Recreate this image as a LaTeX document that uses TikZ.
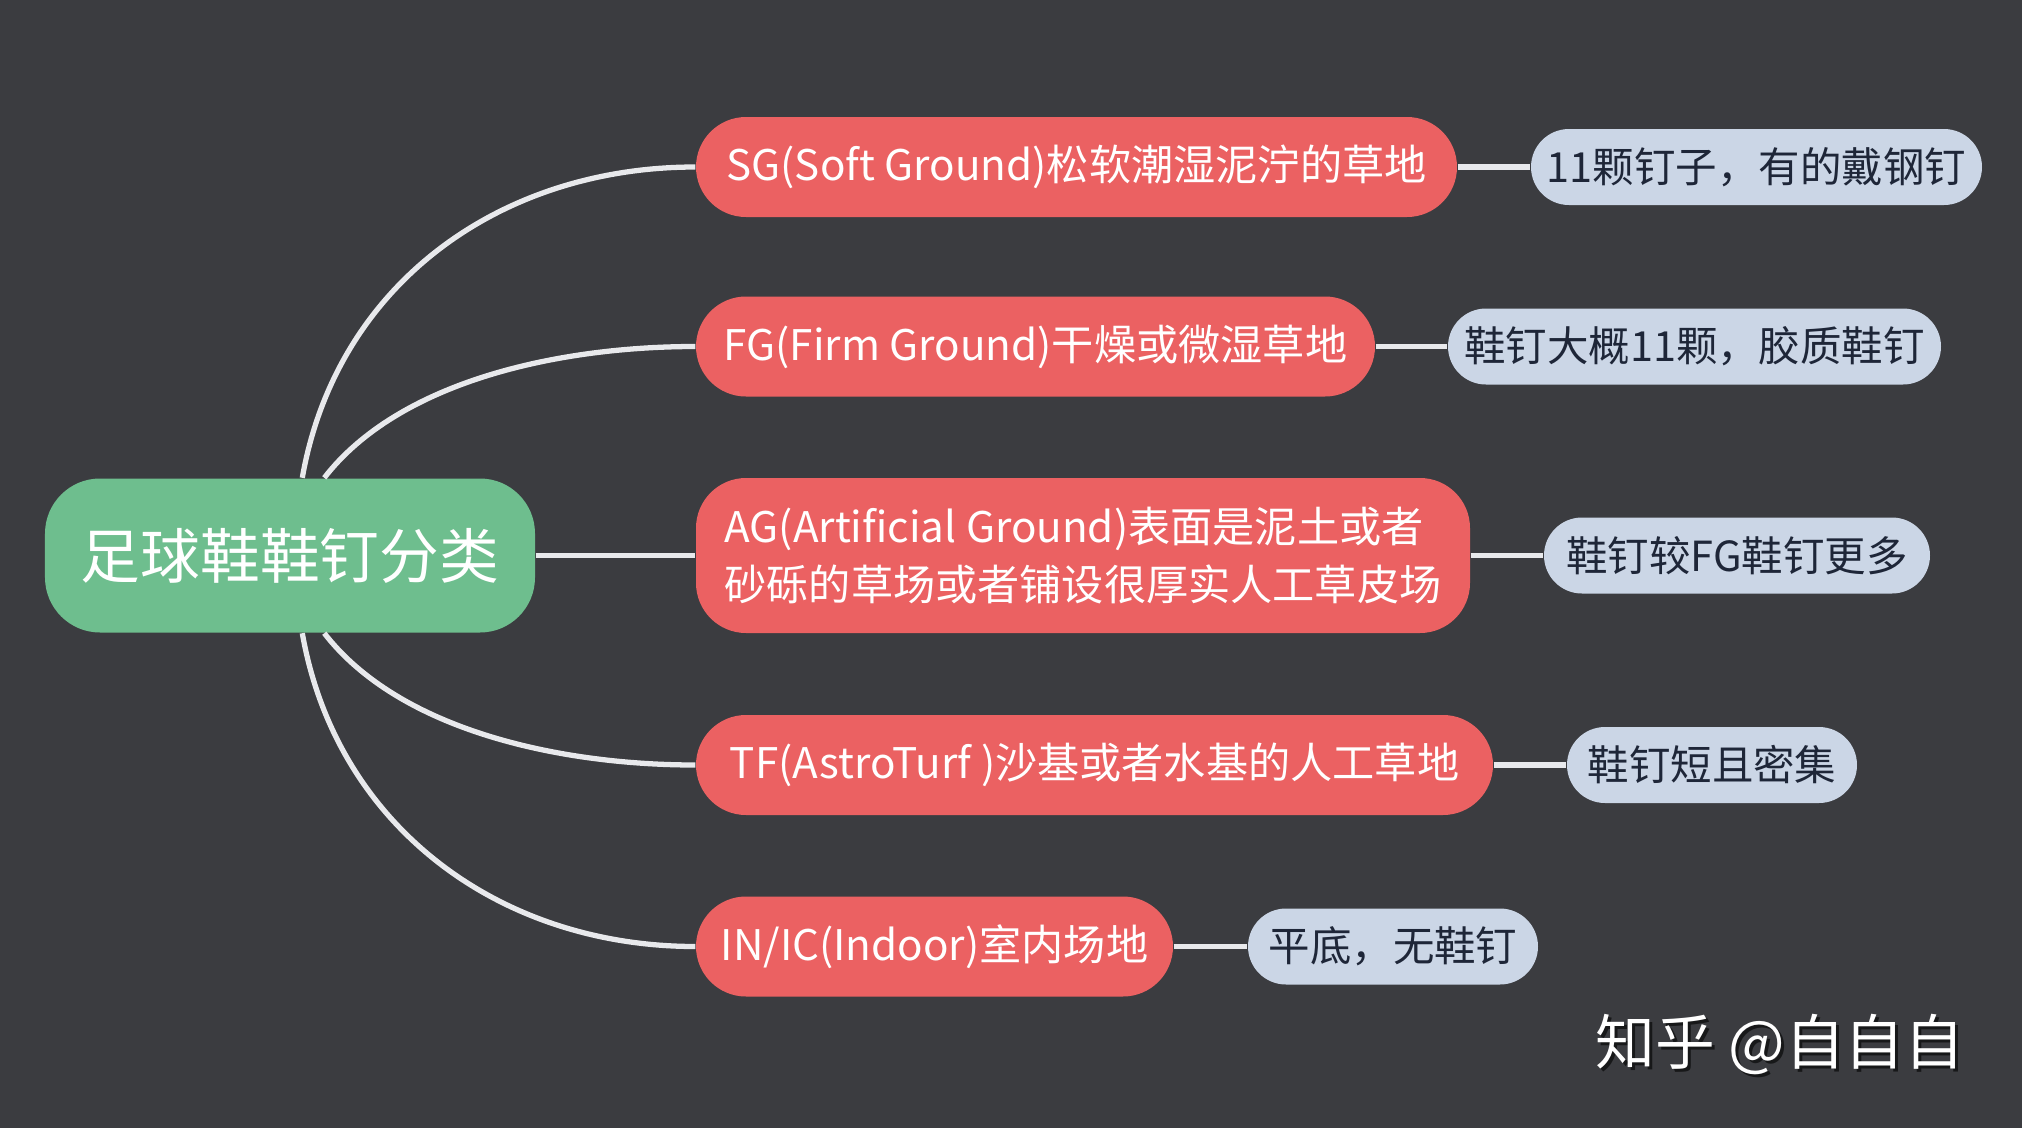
\documentclass[tikz,border=0pt]{standalone}
\usepackage{fontspec}
\setmainfont{Noto Sans CJK SC}
\usepackage{xcolor}
\usepackage{tikz}
\usetikzlibrary{positioning, calc}
\definecolor{boardbg}{RGB}{59, 60, 64}
\definecolor{rootgreen}{RGB}{110, 190, 142}
\definecolor{typered}{RGB}{235, 97, 98}
\definecolor{notegray}{RGB}{203, 214, 230}
\definecolor{notetext}{RGB}{30, 38, 56}
\definecolor{linkgray}{RGB}{232, 233, 236}

\begin{document}
\begin{tikzpicture}[
    rootBox/.style={fill=rootgreen, text=white, rounded corners=0.55cm, minimum height=1.54cm, inner xsep=0.1cm, font=\fontsize{17}{20}\selectfont},
    typeBox/.style={fill=typered, text=white, rounded corners=0.5cm, minimum height=1.0cm, inner xsep=0.1cm, align=left, font=\fontsize{12}{16.5}\selectfont},
    noteBox/.style={fill=notegray, text=notetext, rounded corners=0.38cm, minimum height=0.76cm, inner xsep=0.1cm, font=\fontsize{11.8}{14}\selectfont},
    branchEdge/.style={draw=linkgray, line width=1.5pt},
    leafEdge/.style={draw=linkgray, line width=1.6pt},
    markText/.style={font=\fontsize{17}{20}\selectfont}
]

% Board
\fill[boardbg] (0,0) rectangle (20.22,-11.28);
\useasboundingbox (0,0) rectangle (20.22,-11.28);

% Root
\node[rootBox, minimum width=4.90cm] (root) at (2.90, -5.555) {足球鞋鞋钉分类};

% Shoe types
\node[typeBox, minimum width=7.61cm] (sg) at (10.765, -1.67) {SG(Soft Ground)松软潮湿泥泞的草地};
\node[typeBox, minimum width=6.79cm] (fg) at (10.355, -3.465) {FG(Firm Ground)干燥或微湿草地};
\node[typeBox, minimum width=7.74cm, minimum height=1.55cm] (ag) at (10.83, -5.555) {AG(Artificial Ground)表面是泥土或者\\砂砾的草场或者铺设很厚实人工草皮场};
\node[typeBox, minimum width=7.97cm] (tf) at (10.945, -7.65) {TF(AstroTurf )沙基或者水基的人工草地};
\node[typeBox, minimum width=4.77cm] (ic) at (9.345, -9.465) {IN/IC(Indoor)室内场地};

% Notes
\node[noteBox, minimum width=4.51cm] (sgNote) at (17.565, -1.67) {11颗钉子，有的戴钢钉};
\node[noteBox, minimum width=4.93cm] (fgNote) at (16.945, -3.465) {鞋钉大概11颗，胶质鞋钉};
\node[noteBox, minimum width=3.86cm] (agNote) at (17.37, -5.555) {鞋钉较FG鞋钉更多};
\node[noteBox, minimum width=2.90cm] (tfNote) at (17.12, -7.65) {鞋钉短且密集};
\node[noteBox, minimum width=2.90cm] (icNote) at (13.93, -9.465) {平底，无鞋钉};

% Branches
\draw[branchEdge] ([xshift=2.58cm]root.north west) .. controls +(0.34,1.93) and +(-1.96,0) .. (sg.west);
\draw[branchEdge] ([xshift=2.80cm]root.north west) .. controls +(0.75,0.97) and +(-1.36,0) .. (fg.west);
\draw[branchEdge] (root.east) -- (ag.west);
\draw[branchEdge] ([xshift=2.80cm]root.south west) .. controls +(0.75,-0.97) and +(-1.36,0) .. (tf.west);
\draw[branchEdge] ([xshift=2.58cm]root.south west) .. controls +(0.34,-1.93) and +(-1.96,0) .. (ic.west);

\draw[leafEdge] (sg) -- (sgNote);
\draw[leafEdge] (fg) -- (fgNote);
\draw[leafEdge] (ag) -- (agNote);
\draw[leafEdge] (tf) -- (tfNote);
\draw[leafEdge] (ic) -- (icNote);

% Watermark
\node[markText, text=black, opacity=0.6] (markShadow) at (17.83, -10.48) {知乎 @自自自};
\node[markText, text=white] (mark) at (17.80, -10.45) {知乎 @自自自};

\end{tikzpicture}
\end{document}
